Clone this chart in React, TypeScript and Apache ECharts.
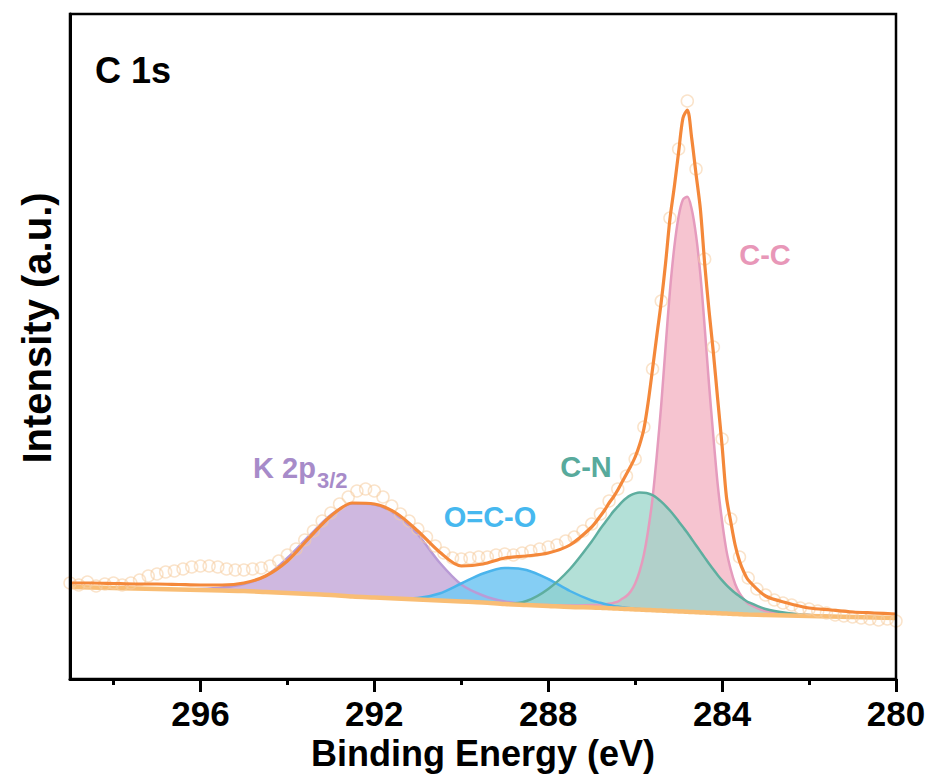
import React, { useEffect, useRef } from 'react';
import * as echarts from 'echarts';

// Binding-energy grid used by the fitted curves (eV)
const fitEnergy = [
  299, 298.5, 298, 297.5, 297, 296.5, 296, 295.5, 295, 294.5, 294, 293.5, 293, 292.5, 292, 291.5, 291, 290.5, 290, 289.5, 289, 288.5, 288, 287.5, 287,
  286.8, 286.7, 286.6, 286.5, 286.4, 286.3, 286.2, 286.1, 286.0, 285.9, 285.8, 285.7, 285.6, 285.5, 285.4, 285.3, 285.2, 285.1, 285.0, 284.9,
  284.8, 284.7, 284.6, 284.5, 284.4, 284.3, 284.2, 284.1, 284.0, 283.9, 283.8, 283.7, 283.6, 283.5, 283.4,
  283, 282.5, 282, 281.5, 281, 280.5, 280,
];

// Shirley-type background (a.u.)
const background = [
  92, 91.5, 91, 90.5, 90, 89.5, 89, 88.5, 88, 87, 86, 85, 84, 82.5, 81.5, 80.5, 79.5, 78.5, 77.5, 76.5, 75, 74, 73, 72, 71.5,
  71.2, 71, 70.8, 70.6, 70.4, 70.2, 70, 69.8, 69.6, 69.4, 69.2, 69, 68.8, 68.6, 68.4, 68.2, 68, 67.8, 67.6, 67.4,
  67.2, 67, 66.8, 66.6, 66.4, 66.2, 66, 65.8, 65.6, 65.4, 65.2, 65, 64.8, 64.6, 64.4,
  64, 63.5, 63, 62.5, 62, 61.5, 61,
];

// Component heights above the background (a.u.)
const k2p = [
  0, 0, 0, 0, 0, 0, 1, 3, 7, 16, 35, 58, 80, 93, 93, 84, 65, 38, 17, 7, 2.5, 1, 0, 0, 0,
  0, 0, 0, 0, 0, 0, 0, 0, 0, 0, 0, 0, 0, 0, 0, 0, 0, 0, 0, 0,
  0, 0, 0, 0, 0, 0, 0, 0, 0, 0, 0, 0, 0, 0, 0,
  0, 0, 0, 0, 0, 0, 0,
];
const oco = [
  0, 0, 0, 0, 0, 0, 0, 0, 0, 0, 0, 0, 0, 0, 0, 0, 1.5, 7, 18, 29, 36, 35, 27, 16, 7,
  5, 4, 3.2, 2.5, 2, 1.5, 1.2, 1, 0.7, 0.5, 0.3, 0, 0, 0, 0, 0, 0, 0, 0, 0,
  0, 0, 0, 0, 0, 0, 0, 0, 0, 0, 0, 0, 0, 0, 0,
  0, 0, 0, 0, 0, 0, 0,
];
const cn = [
  0, 0, 0, 0, 0, 0, 0, 0, 0, 0, 0, 0, 0, 0, 0, 0, 0, 0, 0, 0, 0, 4, 17, 38, 66,
  79, 85, 91, 97, 102, 107, 111, 114, 116, 117, 117, 116.5, 115, 112.5, 109, 105, 100.5, 95.5, 90, 84.5,
  79, 73, 67, 61, 55, 49, 43.5, 38, 33, 28.5, 24.5, 21, 18, 15, 12.5,
  6, 2.5, 1, 0.3, 0, 0, 0,
];
const cc = [
  0, 0, 0, 0, 0, 0, 0, 0, 0, 0, 0, 0, 0, 0, 0, 0, 0, 0, 0, 0, 0, 0, 1, 1.5, 2.5,
  3.3, 3.8, 4.5, 5.5, 7, 10, 13, 18, 26, 38, 55, 80, 112, 156, 206, 264, 320, 364, 395, 412,
  415, 403, 377, 338, 285, 228, 176, 128, 92, 63, 44, 30, 21, 15, 11,
  4, 2, 1, 0.5, 0, 0, 0,
];

// Cumulative fit envelope (a.u.)
const envelope = [
  96, 96, 95.5, 95, 95, 94.5, 94, 94, 96, 103, 118, 141, 163, 176, 175, 166, 148, 127, 113, 115, 121, 123, 126, 134, 152,
  163, 169, 176, 182, 189, 197, 205, 213, 222, 234, 250, 277, 310, 344, 377, 416, 460, 492, 527, 561,
  569, 541, 505, 470, 415, 368, 326, 279, 233, 182, 157, 134, 118, 107, 99,
  83, 76, 71, 69, 67, 66, 65,
];

// Measured spectrum, 299 -> 280 eV in 0.2 eV steps (a.u.)
const measured = [
  96, 94, 97, 93, 95, 96, 94, 96, 99, 103, 105,
  107, 108, 110, 112, 113, 113, 112, 110, 109, 109,
  110, 111, 113, 118, 124, 130, 139, 148, 158, 166,
  175, 182, 188, 190, 188, 182, 173, 165, 158, 150,
  142, 133, 126, 121, 120, 121, 122, 122, 124, 125,
  124, 126, 128, 130, 132, 134, 138, 142, 148, 155,
  165, 178, 190, 203, 220, 252, 310, 378, 461, 530,
  578, 510, 420, 332, 240, 160, 122, 101, 90, 84,
  79, 76, 74, 71, 70, 68, 66, 64, 63, 62,
  61, 60, 59, 60, 58,
];
const measuredEnergy = measured.map((_, i) => +(299 - 0.2 * i).toFixed(1));

const majorTicks = [296, 292, 288, 284, 280];
const minorTicks = [298, 294, 290, 286, 282];

const FONT = '"Liberation Sans", Arial, Helvetica, sans-serif';

const pair = (vals: number[]) => fitEnergy.map((e, i) => [e, vals[i]]);
const onBackground = (h: number[]) => fitEnergy.map((e, i) => [e, background[i] + h[i]]);

function component(name: string, heights: number[], fill: string, line: string) {
  return {
    type: 'line', name, data: onBackground(heights),
    symbol: 'none', smooth: 0.3, z: 1,
    lineStyle: { color: line, width: 2.5 },
    areaStyle: { color: fill, opacity: 1 },
  };
}

export default function App() {
  const ref = useRef<HTMLDivElement>(null);
  useEffect(() => {
    if (!ref.current) return;
    const chart = echarts.init(ref.current, undefined, { renderer: 'svg' });
    const option: any = {
      animation: false,
      backgroundColor: '#ffffff',
      grid: { left: 70, right: 35, top: 14, bottom: 99, show: true, z: 10, borderColor: '#000', borderWidth: 2.5, backgroundColor: 'rgba(0,0,0,0)' },
      xAxis: [
        {
          type: 'value', min: 280, max: 299, inverse: true, interval: 4, position: 'bottom', z: 10,
          name: 'Binding Energy (eV)', nameLocation: 'middle', nameGap: 49,
          nameTextStyle: { fontSize: 36, fontWeight: 'bold', color: '#000', fontFamily: FONT },
          axisLine: { show: true, onZero: false, lineStyle: { color: '#000', width: 3 } },
          axisTick: { show: true, inside: false, length: 13, customValues: majorTicks, lineStyle: { color: '#000', width: 3 } },
          axisLabel: { show: true, customValues: majorTicks, margin: 17, fontSize: 35, fontWeight: 'bold', color: '#000', fontFamily: FONT },
          splitLine: { show: false },
        },
        {
          type: 'value', min: 280, max: 299, inverse: true, position: 'bottom', z: 10,
          axisLine: { show: false, onZero: false },
          axisTick: { show: true, inside: false, length: 6, customValues: minorTicks, lineStyle: { color: '#000', width: 3 } },
          axisLabel: { show: false },
          splitLine: { show: false },
        },
      ],
      yAxis: {
        type: 'value', min: 0, max: 665, z: 10,
        axisLine: { show: true, lineStyle: { color: '#000', width: 3 } },
        axisTick: { show: false }, axisLabel: { show: false }, splitLine: { show: false },
      },
      series: [
        component('K 2p3/2', k2p, 'rgba(204, 180, 222, 0.95)', '#b99bd6'),
        component('C-C', cc, 'rgba(246, 196, 208, 1)', '#e59bbd'),
        component('O=C-O', oco, 'rgba(120, 201, 243, 0.9)', '#4ab4ec'),
        component('C-N', cn, 'rgba(150, 212, 200, 0.72)', '#5eae9f'),
        {
          type: 'line', name: 'below background', data: pair(background), symbol: 'none', smooth: 0.3, z: 2, silent: true,
          lineStyle: { width: 0, opacity: 0 },
          areaStyle: { color: '#ffffff', opacity: 1 },
        },
        {
          type: 'line', name: 'Background', data: pair(background), symbol: 'none', smooth: 0.3, z: 2,
          lineStyle: { color: '#f9bd74', width: 4.5 },
        },
        {
          type: 'scatter', name: 'Raw', data: measuredEnergy.map((e, i) => [e, measured[i]]),
          symbol: 'circle', symbolSize: 12, z: 3,
          itemStyle: { color: 'rgba(255,255,255,0)', borderColor: 'rgba(246, 205, 160, 0.7)', borderWidth: 1.5 },
        },
        {
          type: 'line', name: 'Fit', data: pair(envelope), symbol: 'none', smooth: 0.3, z: 4,
          lineStyle: { color: '#f4883a', width: 3.2 },
        },
      ],
      graphic: [
        { type: 'text', x: 37, y: 328, rotation: Math.PI / 2, z: 10, style: { text: 'Intensity (a.u.)', fill: '#000', fontSize: 40, fontWeight: 'bold', fontFamily: FONT, align: 'center', verticalAlign: 'middle' } },
        { type: 'text', x: 95, y: 70, z: 10, style: { text: 'C 1s', fill: '#000', fontSize: 36, fontWeight: 'bold', fontFamily: FONT, align: 'left', verticalAlign: 'middle' } },
        { type: 'text', x: 765, y: 255, z: 10, style: { text: 'C-C', fill: '#e897b8', fontSize: 29, fontWeight: 'bold', fontFamily: FONT, align: 'center', verticalAlign: 'middle' } },
        { type: 'text', x: 586, y: 467, z: 10, style: { text: 'C-N', fill: '#58aa9c', fontSize: 29, fontWeight: 'bold', fontFamily: FONT, align: 'center', verticalAlign: 'middle' } },
        { type: 'text', x: 490, y: 517, z: 10, style: { text: 'O=C-O', fill: '#46b8ef', fontSize: 29, fontWeight: 'bold', fontFamily: FONT, align: 'center', verticalAlign: 'middle' } },
        { type: 'text', x: 253, y: 467.5, z: 10, style: { text: 'K 2p', fill: '#a78bc9', fontSize: 29, fontWeight: 'bold', fontFamily: FONT, align: 'left', verticalAlign: 'middle' } },
        { type: 'text', x: 317, y: 480, z: 10, style: { text: '3/2', fill: '#a78bc9', fontSize: 22, fontWeight: 'bold', fontFamily: FONT, align: 'left', verticalAlign: 'middle' } },
      ],
    };
    chart.setOption(option);
    return () => chart.dispose();
  }, []);
  return <div ref={ref} style={{ position: 'fixed', left: 0, top: 0, width: 931, height: 778, background: '#fff' }} />;
}
